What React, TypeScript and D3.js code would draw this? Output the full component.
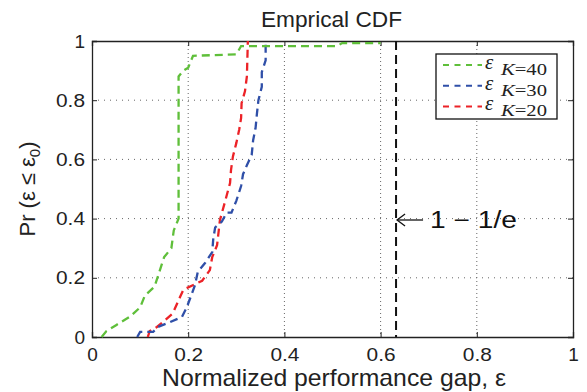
import React, { useRef, useEffect } from "react";
import * as d3 from "d3";

// CDF points: [gap, probability]
const curveK40: [number, number][] = [
  [0.02, 0.0], [0.03, 0.02], [0.05, 0.04], [0.08, 0.07], [0.1, 0.1], [0.11, 0.14],
  [0.13, 0.17], [0.14, 0.22], [0.15, 0.27], [0.165, 0.3], [0.17, 0.36], [0.18, 0.4],
  [0.18, 0.88], [0.19, 0.9], [0.2, 0.91], [0.21, 0.95], [0.3, 0.955], [0.31, 0.983],
  [0.51, 0.983], [0.52, 0.993], [0.6, 0.993],
];
const curveK30: [number, number][] = [
  [0.094, 0.0], [0.1, 0.017], [0.127, 0.017], [0.137, 0.034], [0.162, 0.05], [0.187, 0.068],
  [0.197, 0.1], [0.208, 0.148], [0.214, 0.175], [0.22, 0.22], [0.235, 0.25], [0.25, 0.287],
  [0.252, 0.33], [0.256, 0.37], [0.27, 0.39], [0.28, 0.42], [0.29, 0.42], [0.3, 0.46],
  [0.31, 0.51], [0.314, 0.55], [0.322, 0.58], [0.332, 0.615], [0.335, 0.665], [0.34, 0.705],
  [0.343, 0.756], [0.346, 0.8], [0.353, 0.845], [0.353, 0.895], [0.361, 0.935], [0.361, 1.0],
];
const curveK20: [number, number][] = [
  [0.116, 0.0], [0.12, 0.02], [0.135, 0.034], [0.152, 0.057], [0.168, 0.08], [0.183, 0.135],
  [0.19, 0.16], [0.229, 0.19], [0.245, 0.226], [0.25, 0.27], [0.26, 0.31], [0.266, 0.395],
  [0.277, 0.46], [0.287, 0.52], [0.289, 0.564], [0.293, 0.61], [0.3, 0.655], [0.306, 0.7],
  [0.31, 0.74], [0.311, 0.79], [0.318, 0.83], [0.322, 0.88], [0.324, 1.0],
];

const series = [
  { name: "40", color: "#5fbf3a", points: curveK40 },
  { name: "30", color: "#2f4fa8", points: curveK30 },
  { name: "20", color: "#ec2227", points: curveK20 },
];

const xTicks = [0, 0.2, 0.4, 0.6, 0.8, 1];
const yTicks = [0, 0.2, 0.4, 0.6, 0.8, 1];
const bound = 1 - 1 / Math.E;

const App = () => {
  const svgRef = useRef<SVGSVGElement>(null);

  useEffect(() => {
    const W = 587, H = 392;
    const margin = { top: 41, right: 14, bottom: 55, left: 92 };
    const width = W - margin.left - margin.right;
    const height = H - margin.top - margin.bottom;
    const font = "'Liberation Sans', Arial, sans-serif";

    const svg = d3.select(svgRef.current);
    svg.selectAll("*").remove();
    svg.attr("width", W).attr("height", H).style("background", "#fff");

    const g = svg.append("g").attr("transform", `translate(${margin.left},${margin.top})`);

    const x = d3.scaleLinear().domain([0, 1]).range([0, width]);
    const y = d3.scaleLinear().domain([0, 1]).range([height, 0]);

    // dotted grid
    g.selectAll(".gx").data(xTicks.slice(1, -1)).enter().append("line")
      .attr("x1", (d) => x(d)).attr("x2", (d) => x(d)).attr("y1", 0).attr("y2", height)
      .attr("stroke", "#666").attr("stroke-width", 1).attr("stroke-dasharray", "1,3");
    g.selectAll(".gy").data(yTicks.slice(1, -1)).enter().append("line")
      .attr("y1", (d) => y(d)).attr("y2", (d) => y(d)).attr("x1", 0).attr("x2", width)
      .attr("stroke", "#666").attr("stroke-width", 1).attr("stroke-dasharray", "1,5");

    // axes, ticks inside like matlab
    const xAxis = g.append("g").attr("transform", `translate(0,${height})`)
      .call(d3.axisBottom(x).tickValues(xTicks).tickSize(-5).tickPadding(11).tickFormat(d3.format("~g")));
    const yAxis = g.append("g")
      .call(d3.axisLeft(y).tickValues(yTicks).tickSize(-5).tickPadding(7).tickFormat(d3.format("~g")));
    g.append("g").call(d3.axisTop(x).tickValues(xTicks).tickSize(-5).tickFormat(() => ""));
    g.append("g").attr("transform", `translate(${width},0)`)
      .call(d3.axisRight(y).tickValues(yTicks).tickSize(-5).tickFormat(() => ""));
    g.selectAll(".domain").attr("stroke", "#222").attr("stroke-width", 1.3);
    g.selectAll(".tick line").attr("stroke", "#222");
    [xAxis, yAxis].forEach((a) =>
      a.selectAll("text").attr("font-family", font).attr("font-size", 19).attr("fill", "#222")
        .each(function (d: any) {
          if (d !== 0 && d !== 1) d3.select(this).attr("textLength", 29).attr("lengthAdjust", "spacingAndGlyphs");
        }));

    // 1 - 1/e line
    g.append("line")
      .attr("x1", x(bound)).attr("x2", x(bound)).attr("y1", y(1)).attr("y2", y(0))
      .attr("stroke", "#111").attr("stroke-width", 2).attr("stroke-dasharray", "9,5");

    const line = d3.line<[number, number]>().x((d) => x(d[0])).y((d) => y(d[1]));
    series.slice().reverse().forEach((s) => {
      g.append("path").datum(s.points).attr("d", line)
        .attr("fill", "none").attr("stroke", s.color).attr("stroke-width", 2.3)
        .attr("stroke-dasharray", "8,5");
    });

    // annotation
    const ay = 220 - margin.top;
    g.append("line").attr("x1", x(bound) + 1).attr("x2", x(bound) + 27).attr("y1", ay).attr("y2", ay)
      .attr("stroke", "#111").attr("stroke-width", 1.3);
    g.append("path")
      .attr("d", `M${x(bound) + 9},${ay - 6} L${x(bound) + 1},${ay} L${x(bound) + 9},${ay + 6}`)
      .attr("fill", "none").attr("stroke", "#111").attr("stroke-width", 1.3);
    g.append("text").attr("x", 430 - margin.left).attr("y", 228 - margin.top)
      .attr("font-family", font).attr("font-size", 23).attr("fill", "#111")
      .attr("textLength", 87).attr("lengthAdjust", "spacingAndGlyphs")
      .text("1 \u2212 1/e");

    // legend
    const lg = svg.append("g").attr("transform", `translate(436,54)`);
    lg.append("rect").attr("width", 121).attr("height", 65)
      .attr("fill", "#fff").attr("stroke", "#111").attr("stroke-width", 1.3);
    const serif = "'Liberation Serif', 'Times New Roman', serif";
    series.forEach((s, i) => {
      const ly = 11 + i * 20.7;
      lg.append("line").attr("x1", 7).attr("x2", 46).attr("y1", ly).attr("y2", ly)
        .attr("stroke", s.color).attr("stroke-width", 2).attr("stroke-dasharray", "6,5.5");
      const t = lg.append("text").attr("x", 49).attr("y", ly + 4).attr("font-family", serif)
        .attr("fill", "#222");
      t.append("tspan").attr("font-size", 21).attr("font-style", "italic").text("\u03b5");
      t.append("tspan").attr("x", 65).attr("dy", 6).attr("font-size", 16)
        .attr("textLength", 46).attr("lengthAdjust", "spacingAndGlyphs")
        .html(`<tspan font-style="italic">K</tspan>=${s.name}`);
    });

    // title and labels
    svg.append("text").attr("x", 261).attr("y", 27)
      .attr("font-family", font).attr("font-size", 22).attr("fill", "#222")
      .attr("textLength", 141).attr("lengthAdjust", "spacingAndGlyphs").text("Emprical CDF");
    svg.append("text").attr("x", 162).attr("y", 386)
      .attr("font-family", font).attr("font-size", 24).attr("fill", "#222")
      .attr("textLength", 344).attr("lengthAdjust", "spacingAndGlyphs")
      .text("Normalized performance gap, \u03b5");
    const yl = svg.append("text").attr("transform", `translate(35,${margin.top + height / 2}) rotate(-90)`)
      .attr("text-anchor", "middle").attr("font-family", font).attr("font-size", 22).attr("fill", "#222");
    yl.append("tspan").text("Pr (\u03b5 \u2264 \u03b5");
    yl.append("tspan").attr("dy", 5).attr("font-size", 15).text("0");
    yl.append("tspan").attr("dy", -5).text(")");
  }, []);

  return <svg ref={svgRef} style={{ position: "absolute", left: 0, top: 0 }}></svg>;
};

export default App;
